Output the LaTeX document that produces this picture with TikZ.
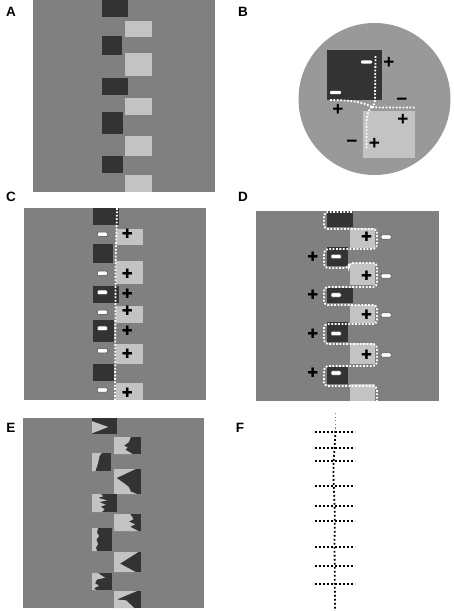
\documentclass[tikz,border=0pt]{standalone}
\usepackage{fontspec}
\setmainfont{Liberation Sans}
\newfontfamily\dejavu{DejaVu Sans}
\definecolor{pgray}{HTML}{808080}
\definecolor{dk}{HTML}{333333}
\definecolor{lt}{HTML}{C3C3C3}
\definecolor{circ}{HTML}{999999}
\newcommand\sqsetA{%
  \fill[dk] (102,0) rectangle (128,17);
  \fill[dk] (102,36) rectangle (122,55);
  \fill[dk] (102,78) rectangle (128,95);
  \fill[dk] (102,112) rectangle (123,134);
  \fill[dk] (102,156) rectangle (123,173);
  \fill[lt] (125,21) rectangle (152,37);
  \fill[lt] (125,53) rectangle (152,76);
  \fill[lt] (125,98) rectangle (152,115);
  \fill[lt] (125,136) rectangle (152,156);
  \fill[lt] (125,175) rectangle (152,192);}
% #1 x, #2 y, #3 width, #4 height, #5 light polygon in unit square
\newcommand\esq[5]{%
  \begin{scope}[shift={(#1,#2)},xscale=#3,yscale=#4]
    \fill[dk] (0,0) rectangle (1,1);
    \fill[lt] #5 -- cycle;
  \end{scope}}
\begin{document}
\begin{tikzpicture}[x=1pt,y=-1pt,
  lbl/.style={font=\fontsize{13.5}{14}\selectfont\bfseries, inner sep=0pt},
  wdots/.style={white, line width=1.8pt, dash pattern=on 1.8pt off 1.6pt},
  wminus/.style={draw=black!70, fill=white, line width=0.5pt, minimum width=10pt, minimum height=4.2pt, inner sep=0pt, rounded corners=1pt},
  hplus/.style={font=\dejavu\fontsize{13}{13}\selectfont, inner sep=0pt},
  bsign/.style={font=\fontsize{19}{19}\selectfont\bfseries, inner sep=0pt},
  kdots/.style={black, line width=1.8pt, dash pattern=on 1.8pt off 2.2pt}]
\fill[white] (0,0) rectangle (454,611);
\useasboundingbox (0,0) rectangle (454,611);

% ---------- labels
\node[lbl] (labA) at (11,12) {A};
\node[lbl] (labB) at (243,12) {B};
\node[lbl] (labC) at (11,197) {C};
\node[lbl] (labD) at (243,197) {D};
\node[lbl] (labE) at (11,428) {E};
\node[lbl] (labF) at (240,428) {F};

% ---------- A
\fill[pgray] (33,0) rectangle (215,192);
\sqsetA

% ---------- B
\fill[circ] (374.5,99) circle (76);
\fill[dk] (326.5,49.5) rectangle (381.5,99.5);
\fill[lt] (362.5,111) rectangle (415,157.5);
\draw[wdots] (375.5,56) -- (375,100) .. controls (374.5,104) .. (372,107);
\draw[wdots] (330,100) .. controls (352,100) and (364,102.5) .. (372,107);
\draw[wdots] (372,107) .. controls (377,107.5) .. (386,107.5) -- (415,107.5);
\draw[wdots] (372,107) .. controls (367.5,111) and (366.5,117) .. (366.5,124) -- (366.5,149);
\node[wminus, draw=none, minimum width=11pt, minimum height=3.4pt] (bm1) at (366.5,62) {};
\node[wminus, draw=none, minimum width=11pt, minimum height=3.4pt] (bm2) at (335.5,92.5) {};
\node[bsign] (bp1) at (389,63) {+};
\node[bsign] (bp2) at (338,110) {+};
\node[bsign] (bn1) at (402,101.5) {−};
\node[bsign] (bp3) at (403,120) {+};
\node[bsign] (bn2) at (352,144) {−};
\node[bsign] (bp4) at (374.5,144) {+};

% ---------- C
\fill[pgray] (24,208) rectangle (206,400);
\begin{scope}[shift={(-9,208)}]
  \sqsetA
\end{scope}
\draw[wdots] (117,208) .. controls (116.5,240) and (115,260) .. (115.5,300) -- (115,400);
\foreach \y [count=\i] in {234.3,273.3,292.3,312.3,328.3,350.7,390}
  \node[wminus] (cm\i) at (102.3,\y) {};
\foreach \y [count=\i] in {233.3,273.3,294,310.7,331,354,392.3}
  \node[hplus] (cp\i) at (127.3,\y) {✚};

% ---------- D
\fill[pgray] (256,211) rectangle (439,401);
\fill[dk] (327,211) rectangle (353,227);
\fill[dk] (327,247) rectangle (348,266);
\fill[dk] (327,288) rectangle (353,303);
\fill[dk] (327,322) rectangle (348,342);
\fill[dk] (327,367) rectangle (348,384);
\fill[lt] (350,228) rectangle (375,248);
\fill[lt] (350,263) rectangle (375,285);
\fill[lt] (350,305) rectangle (375,323);
\fill[lt] (350,343) rectangle (375,364);
\fill[lt] (350,384) rectangle (375,401);
\draw[wdots, rounded corners=4pt] (352,212) -- (324,212) -- (324,229) -- (377,229) -- (377,249)
  -- (324,249) -- (324,268) -- (349,268) -- (349,263) -- (377,263) -- (377,287)
  -- (324,287) -- (324,305) -- (377,305) -- (377,324)
  -- (324,324) -- (324,344) -- (377,344) -- (377,366)
  -- (324,366) -- (324,386) -- (377,386) -- (377,401);
\foreach \y [count=\i] in {237,276,315,355} {
  \node[hplus] (dp\i) at (366.5,\y) {✚};
  \node[wminus] (dm\i) at (386,\y) {};
}
\foreach \y [count=\i] in {256.5,295,333.5,373} {
  \node[hplus] (dq\i) at (312.7,\y) {✚};
  \node[wminus] (dn\i) at (336,\y) {};
}

% ---------- E
\fill[pgray] (23,418) rectangle (204,608);
\esq{92}{418}{25}{16}{(0,0.2) -- (0.65,0.56) -- (0,0.96)}
\esq{114}{437}{27}{17}{(0,0) -- (0.62,0) -- (0.55,0.3) -- (0.37,0.5) -- (0.5,0.62) -- (0.42,0.75) -- (0.56,0.88) -- (0.68,1) -- (0,1)}
\esq{92}{453}{19}{18}{(0,0) -- (0.52,0) -- (0.4,0.15) -- (0.33,0.5) -- (0.28,0.7) -- (0.18,1) -- (0,1)}
\esq{114}{469}{27}{25}{(0,0) -- (0.8,0) -- (0.45,0.18) -- (0.09,0.36) -- (0.35,0.55) -- (0.55,0.72) -- (0.62,0.9) -- (0.85,1) -- (0,1)}
\esq{92}{494}{25}{18}{(0,0) -- (0.35,0) -- (0.45,0.12) -- (0.25,0.22) -- (0.6,0.35) -- (0.3,0.45) -- (0.55,0.6) -- (0.35,0.7) -- (0.5,0.85) -- (0.4,1) -- (0,1)}
\esq{114}{514}{27}{17}{(0,0) -- (0.6,0) -- (0.72,0.3) -- (0.55,0.45) -- (0.78,0.6) -- (0.6,0.75) -- (0.9,1) -- (0,1)}
\esq{92}{528}{20}{23}{(0,0) -- (0.3,0) -- (0.25,0.2) -- (0.35,0.35) -- (0.22,0.5) -- (0.3,0.7) -- (0.2,0.85) -- (0.25,1) -- (0,1)}
\esq{114}{552}{27}{20}{(0,0) -- (0.9,0) -- (0.22,0.58) -- (0.8,1) -- (0,1)}
\esq{92}{573}{20}{17}{(0,0) -- (0.3,0) -- (0.65,0.28) -- (0.25,0.38) -- (0.15,0.6) -- (0.35,0.75) -- (0.1,0.9) -- (0.2,1) -- (0,1)}
\esq{114}{591}{27}{17}{(0,0) -- (0.85,0) -- (0.1,0.5) -- (0.45,0.55) -- (0.65,0.85) -- (0.75,1) -- (0,1)}
\draw[black!75, line width=1.2pt, dash pattern=on 1.2pt off 1.8pt] (93,418.6) -- (117,418.6);

% ---------- F
\draw[gray, line width=1.2pt, dash pattern=on 1.2pt off 2.4pt] (335.3,413) -- (335.3,430);
\draw[kdots] (335.3,431) .. controls (335,450) and (333,460) .. (333.5,475) .. controls (334,500) and (335.5,510) .. (334.5,540) -- (335,611);
\foreach \y in {432,448,461,486,506,521,547,566,584}
  \draw[kdots] (315,\y) -- (355,\y);
\end{tikzpicture}
\end{document}
